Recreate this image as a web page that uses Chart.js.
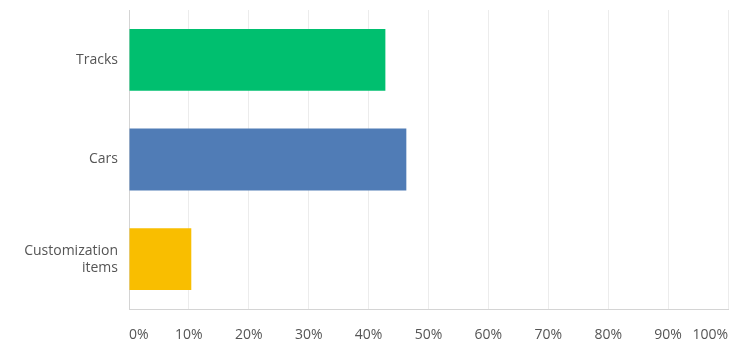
<!DOCTYPE html>
<html>
<head>
<meta charset="utf-8">
<script src="https://cdn.jsdelivr.net/npm/chart.js@4"></script>
<style>
  html, body { margin: 0; padding: 0; background: #fff; }
  #wrap { width: 752px; height: 360px; }
</style>
</head>
<body>
<div id="wrap"><canvas id="myChart" width="752" height="360"></canvas></div>
<script>
// Datos del gráfico
const categorias = [['Tracks'], ['Cars'], ['Customization', 'items']];
const porcentajes = [42.8, 46.3, 10.4];
const colores = ['#00bf6f', '#507cb6', '#f9be00'];
const ticksX = [0, 10, 20, 30, 40, 50, 60, 70, 80, 90, 100];

const ctx = document.getElementById('myChart').getContext('2d');
const myChart = new Chart(ctx, {
  type: 'bar',
  data: {
    labels: categorias,
    datasets: [{
      data: porcentajes,
      backgroundColor: colores,
      borderWidth: 0,
      barPercentage: 0.62,
      categoryPercentage: 1
    }]
  },
  options: {
    indexAxis: 'y',
    responsive: false,
    animation: false,
    layout: { padding: { top: 10, right: 24, left: 0, bottom: 0 } },
    plugins: {
      legend: { display: false },
      tooltip: { enabled: false }
    },
    scales: {
      x: {
        min: 0,
        max: 100,
        afterBuildTicks: s => { s.ticks = ticksX.map(v => ({ value: v })); },
        afterFit: s => { s.height = 51; s.paddingLeft = 0; s.paddingRight = 0; },
        grid: { color: '#ececec', drawTicks: false },
        border: { color: '#d4d4d4' },
        ticks: {
          align: 'inner',
          padding: 18,
          color: '#555',
          font: { family: 'Open Sans', size: 14 },
          callback: v => v + '%'
        }
      },
      y: {
        afterFit: s => { s.width = 129; s.paddingTop = 0; s.paddingBottom = 0; },
        grid: { display: false, drawTicks: false },
        border: { color: '#d4d4d4' },
        ticks: {
          padding: 11,
          color: '#555',
          font: { family: 'Open Sans', size: 14 }
        }
      }
    }
  }
});
</script>
</body>
</html>
